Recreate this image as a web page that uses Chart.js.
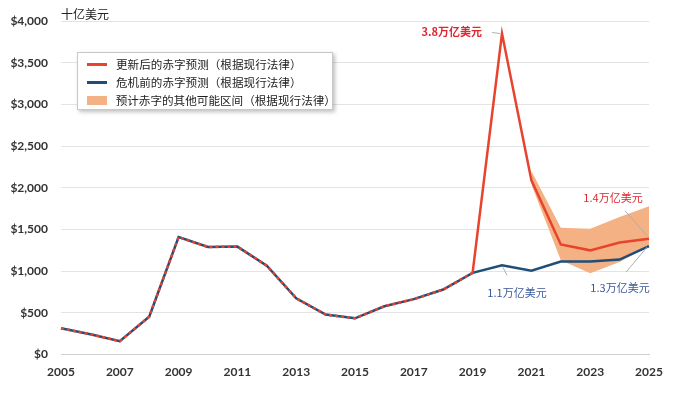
<!DOCTYPE html>
<html>
<head>
<meta charset="utf-8">
<script src="https://cdn.jsdelivr.net/npm/chart.js"></script>
<style>
  body { margin: 0; background: #fff; }
  #wrap { position: relative; width: 691px; height: 393px; }
  #leyenda {
    position: absolute; left: 77px; top: 52px; width: 256px; height: 58px;
    background: #fff; border: 1px solid #c8c8c8; box-shadow: 2px 2px 4px rgba(0,0,0,0.25);
    font-family: "Noto Sans CJK SC", sans-serif; font-size: 11.6px; color: #222;
    box-sizing: border-box; padding-top: 2px;
  }
  .item { display: flex; align-items: center; height: 18px; }
  .sw { width: 20px; margin-left: 9px; margin-right: 9px; }
</style>
</head>
<body>
<div id="wrap">
  <canvas id="grafico" width="691" height="393"></canvas>
  <div id="leyenda">
    <div class="item"><span class="sw" style="height:3px;background:#e8432e"></span>更新后的赤字预测（根据现行法律）</div>
    <div class="item"><span class="sw" style="height:3px;background:#1f4e79"></span>危机前的赤字预测（根据现行法律）</div>
    <div class="item"><span class="sw" style="height:9px;background:#f4b183"></span>预计赤字的其他可能区间（根据现行法律）</div>
  </div>
</div>
<script>
const anios = ["2005","2006","2007","2008","2009","2010","2011","2012","2013","2014","2015","2016","2017","2018","2019","2020","2021","2022","2023","2024","2025"];
const actualizado = [315, 245, 160, 455, 1410, 1290, 1295, 1065, 675, 480, 435, 580, 665, 780, 980, 3850, 2090, 1320, 1250, 1345, 1390];
const preCrisis   = [315, 245, 160, 455, 1410, 1290, 1295, 1065, 675, 480, 435, 580, 665, 780, 980, 1070, 1005, 1115, 1115, 1140, 1300];
const rangoAlto = [null, null, null, null, null, null, null, null, null, null, null, null, null, null, null, null, 2200, 1520, 1510, 1650, 1780];
const rangoBajo = [null, null, null, null, null, null, null, null, null, null, null, null, null, null, null, null, 2040, 1130, 975, 1110, 1300];
const ticksY = [0, 500, 1000, 1500, 2000, 2500, 3000, 3500, 4000];

const anotaciones = [
  { texto: "3.8万亿美元", serie: actualizado, i: 15, dx: -20, dy: -2, align: "right", color: "#e0262f", bold: true, linea: [-10, -1, -2, 0] },
  { texto: "1.4万亿美元", serie: actualizado, i: 20, dx: -36, dy: -41, align: "center", color: "#e0262f", bold: false, linea: [-24, -28, -2, -3] },
  { texto: "1.1万亿美元", serie: preCrisis, i: 15, dx: 15, dy: 27, align: "center", color: "#3b5a9a", bold: false, linea: [1, 2, 5, 10] },
  { texto: "1.3万亿美元", serie: preCrisis, i: 20, dx: -29, dy: 42, align: "center", color: "#3b5a9a", bold: false, linea: [-23, 26, -2, 1] }
];

const pluginTextos = {
  id: "textos",
  afterDatasetsDraw(chart) {
    const ctx = chart.ctx;
    const x = chart.scales.x, y = chart.scales.y;
    ctx.save();
    // unidad arriba del eje
    ctx.font = "12px 'Noto Sans CJK SC'";
    ctx.fillStyle = "#222";
    ctx.textAlign = "left";
    ctx.textBaseline = "middle";
    ctx.fillText("十亿美元", chart.chartArea.left, 14);
    anotaciones.forEach(a => {
      const px = x.getPixelForValue(a.i);
      const py = y.getPixelForValue(a.serie[a.i]);
      ctx.strokeStyle = "#b0b0b0";
      ctx.lineWidth = 1;
      ctx.beginPath();
      ctx.moveTo(px + a.linea[0], py + a.linea[1]);
      ctx.lineTo(px + a.linea[2], py + a.linea[3]);
      ctx.stroke();
      ctx.font = (a.bold ? "bold " : "") + "11px 'Noto Sans CJK SC'";
      ctx.fillStyle = a.color;
      ctx.textAlign = a.align;
      ctx.fillText(a.texto, px + a.dx, py + a.dy);
    });
    ctx.restore();
  }
};

const ctx = document.getElementById("grafico").getContext("2d");
new Chart(ctx, {
  type: "line",
  data: {
    labels: anios,
    datasets: [
      {
        label: "更新后的赤字预测（根据现行法律）",
        data: actualizado,
        borderColor: "#e8432e",
        borderWidth: 2.5,
        pointRadius: 0,
        fill: false,
        order: 1,
        segment: {
          borderDash: c => c.p1DataIndex <= 14 ? [3, 3] : undefined
        }
      },
      {
        label: "危机前的赤字预测（根据现行法律）",
        data: preCrisis,
        borderColor: "#1f4e79",
        borderWidth: 2.5,
        pointRadius: 0,
        fill: false,
        order: 2
      },
      {
        label: "alto",
        data: rangoAlto,
        borderWidth: 0,
        borderColor: "rgba(0,0,0,0)",
        pointRadius: 0,
        fill: false,
        order: 3
      },
      {
        label: "预计赤字的其他可能区间（根据现行法律）",
        data: rangoBajo,
        borderWidth: 0,
        borderColor: "rgba(0,0,0,0)",
        backgroundColor: "#f4b183",
        pointRadius: 0,
        fill: "-1",
        order: 3
      }
    ]
  },
  options: {
    responsive: false,
    animation: false,
    layout: { padding: { top: 21, right: 42, bottom: 8, left: 0 } },
    plugins: {
      legend: { display: false },
      tooltip: { enabled: false }
    },
    scales: {
      x: {
        grid: { display: false, drawTicks: true, tickLength: 4 },
        border: { color: "#d0d0d0" },
        ticks: {
          autoSkip: false,
          maxRotation: 0,
          color: "#333",
          font: { family: "Lato", weight: "bold", size: 12 },
          padding: 6,
          callback: function (v, i) { return i % 2 === 0 ? anios[i] : ""; }
        }
      },
      y: {
        min: 0,
        max: 4000,
        afterFit: s => { s.width = 61; },
        afterBuildTicks: s => { s.ticks = ticksY.map(v => ({ value: v })); },
        grid: { color: "#e3e3e3", drawTicks: false },
        border: { display: false },
        ticks: {
          color: "#333",
          padding: 13,
          font: { family: "Lato", weight: "bold", size: 12 },
          callback: v => "$" + v.toLocaleString("en-US")
        }
      }
    }
  },
  plugins: [pluginTextos]
});
</script>
</body>
</html>
